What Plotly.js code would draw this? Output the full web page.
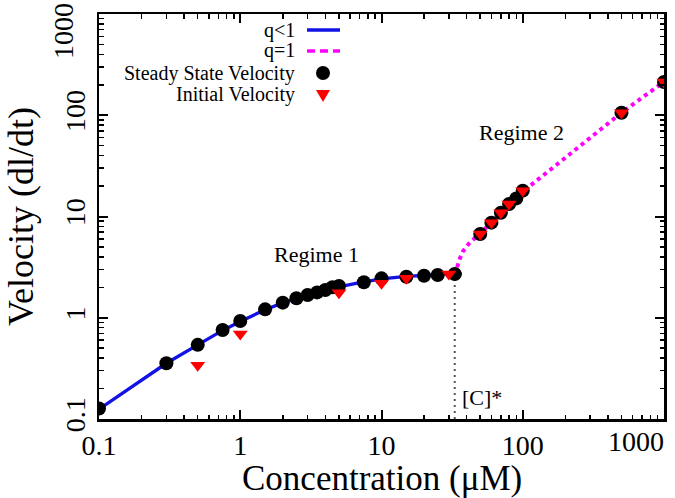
<!DOCTYPE html>
<html>
<head>
<meta charset="utf-8">
<script src="https://cdn.plot.ly/plotly-3.0.1.min.js"></script>
<style>html,body{margin:0;padding:0;background:#fff;}#chart{width:675px;height:498px;}</style>
</head>
<body>
<div id="chart"></div>
<script>
// ---- data ----
const concSteady = [0.1, 0.3, 0.5, 0.75, 1, 1.5, 2, 2.5, 3, 3.5, 4, 4.5, 5, 7.5, 10, 15, 20, 25, 33, 50, 60, 70, 80, 90, 100, 500, 1000];
const velSteady  = [0.127, 0.355, 0.54, 0.757, 0.93, 1.21, 1.41, 1.56, 1.68, 1.78, 1.88, 2.0, 2.06, 2.24, 2.45, 2.54, 2.6, 2.64, 2.7, 6.72, 8.69, 10.9, 13.3, 15.1, 18.0, 106, 213];
const concInitial = [0.5, 1, 5, 10, 15, 30, 50, 60, 70, 80, 100, 500, 1000];
const velInitial  = [0.34, 0.69, 1.77, 2.19, 2.45, 2.7, 6.72, 8.69, 10.9, 13.3, 18.0, 106, 213];
const fitQlt1X = [0.1, 0.15, 0.2, 0.3, 0.5, 0.75, 1, 1.5, 2, 3, 4, 5, 7, 10, 15, 20, 25, 30, 37];
const fitQlt1Y = [0.125, 0.185, 0.245, 0.355, 0.54, 0.75, 0.92, 1.2, 1.4, 1.68, 1.87, 2.02, 2.22, 2.42, 2.56, 2.63, 2.67, 2.7, 2.72];
const fitQeq1X = [33, 34, 35, 36, 38, 42, 50, 60, 70, 80, 100, 200, 300, 500, 1000];
const fitQeq1Y = [2.65, 3.1, 3.5, 3.9, 4.6, 5.5, 6.8, 8.7, 10.8, 13.1, 17.6, 38, 60, 106, 214];
const cStar = 33;
const cStarVel = 2.7;
const tickVals = [0.1, 1, 10, 100, 1000];
const tickText = ['0.1', '1', '10', '100', ''];
const legendLabels = ['q<1', 'q=1', 'Steady State Velocity', 'Initial Velocity'];
const xTitle = 'Concentration (μM)';
const yTitle = 'Velocity (dl/dt)';

// ---- layout helpers ----
const W = 675, H = 498;
const L = 99, R = 664, T = 14, B = 419;
const px = x => (x - L) / (R - L);
const py = y => (B - y) / (B - T);
const serif = 'Liberation Serif, Times New Roman, serif';

function minorVals(lo, hi) {
  const out = [];
  for (let e = lo; e < hi; e++) for (let k = 2; k <= 9; k++) out.push(k * Math.pow(10, e));
  return out;
}

const traces = [
  {x: fitQlt1X, y: fitQlt1Y, mode: 'lines', line: {color: '#1212e6', width: 3.4}, showlegend: false, name: legendLabels[0]},
  {x: fitQeq1X, y: fitQeq1Y, mode: 'lines', line: {color: '#ff00ff', width: 4, dash: '4px,4px'}, showlegend: false, name: legendLabels[1]},
  {x: concSteady, y: velSteady, mode: 'markers', marker: {symbol: 'circle', size: 14, color: 'black'}, showlegend: false, name: legendLabels[2]},
  {x: concInitial, y: velInitial, mode: 'markers', marker: {symbol: 'triangle-down', size: 13, color: '#ff0000'}, showlegend: false, name: legendLabels[3]}
];

const axisCommon = {
  type: 'log', showgrid: false, zeroline: false,
  showline: true, linecolor: 'black', linewidth: 2.5, mirror: 'allticks',
  ticks: 'inside', ticklen: 9, tickwidth: 2, tickcolor: 'black',
  tickmode: 'array', tickvals: tickVals, ticktext: tickText,
  tickfont: {family: serif, size: 28, color: 'black'},
};

const legY = [30, 51, 73, 95];
const legTextX = 297;
const legSampleX = 323;

const annotations = [
  {text: 'Regime 1', x: px(316), y: py(255)},
  {text: 'Regime 2', x: px(521), y: py(132)},
  {text: '[C]*', x: px(460), y: py(397), xanchor: 'left'},
].map(a => Object.assign({xref: 'paper', yref: 'paper', showarrow: false, font: {family: serif, size: 22, color: 'black'}, xanchor: 'center', yanchor: 'middle'}, a));

legendLabels.forEach((t, i) => annotations.push({
  text: t, xref: 'paper', yref: 'paper', x: px(legTextX), y: py(legY[i]), xanchor: 'right', yanchor: 'middle',
  showarrow: false, font: {family: serif, size: 20, color: 'black'}
}));
// tick labels for 1000 shifted inside the picture, as in the reference
annotations.push({text: '1000', xref: 'paper', yref: 'paper', x: px(666), y: py(441), xanchor: 'right', yanchor: 'middle', showarrow: false, font: {family: serif, size: 28, color: 'black'}});
annotations.push({text: '1000', xref: 'paper', yref: 'paper', x: px(63), y: py(1), xanchor: 'center', yanchor: 'top', textangle: -90, showarrow: false, font: {family: serif, size: 28, color: 'black'}});
// x axis title, placed as in the reference
annotations.push({text: xTitle, xref: 'paper', yref: 'paper', x: 0.5, y: py(478), xanchor: 'center', yanchor: 'middle', showarrow: false, font: {family: serif, size: 35, color: 'black'}});

const shapes = [
  {type: 'line', xref: 'x', yref: 'y', x0: cStar, x1: cStar, y0: 0.1, y1: cStarVel, line: {color: '#555', width: 2, dash: '2px,4px'}, layer: 'below'},
  {type: 'line', xref: 'paper', yref: 'paper', x0: px(307), x1: px(340), y0: py(legY[0]), y1: py(legY[0]), line: {color: '#1212e6', width: 3.4}},
  {type: 'line', xref: 'paper', yref: 'paper', x0: px(307), x1: px(340), y0: py(legY[1]), y1: py(legY[1]), line: {color: '#ff00ff', width: 3.4, dash: '8px,5px'}},
  {type: 'circle', xref: 'paper', yref: 'paper', xsizemode: 'pixel', ysizemode: 'pixel', xanchor: px(legSampleX), yanchor: py(legY[2]), x0: -7, x1: 7, y0: -7, y1: 7, fillcolor: 'black', line: {width: 0}},
  {type: 'path', xref: 'paper', yref: 'paper', xsizemode: 'pixel', ysizemode: 'pixel', xanchor: px(legSampleX), yanchor: py(legY[3]), path: 'M -7 5 L 7 5 L 0 -7 Z', fillcolor: '#ff0000', line: {width: 0}}
];

const layout = {
  width: W, height: H,
  margin: {l: L, r: W - R, t: T, b: H - B, pad: 0},
  paper_bgcolor: 'white', plot_bgcolor: 'white',
  showlegend: false,
  xaxis: Object.assign({}, axisCommon, {
    range: [-1, 3],
    minor: {ticks: 'inside', ticklen: 4.5, tickwidth: 1.5, tickcolor: 'black', tickmode: 'array', tickvals: minorVals(-1, 3)}
  }),
  yaxis: Object.assign({}, axisCommon, {
    range: [-1, 3], tickangle: -90,
    minor: {ticks: 'inside', ticklen: 4.5, tickwidth: 1.5, tickcolor: 'black', tickmode: 'array', tickvals: minorVals(-1, 3)},
    title: {text: yTitle, font: {family: serif, size: 36, color: 'black'}, standoff: 16}
  }),
  annotations: annotations,
  shapes: shapes
};

Plotly.newPlot('chart', traces, layout, {displayModeBar: false, staticPlot: true});
</script>
</body>
</html>
